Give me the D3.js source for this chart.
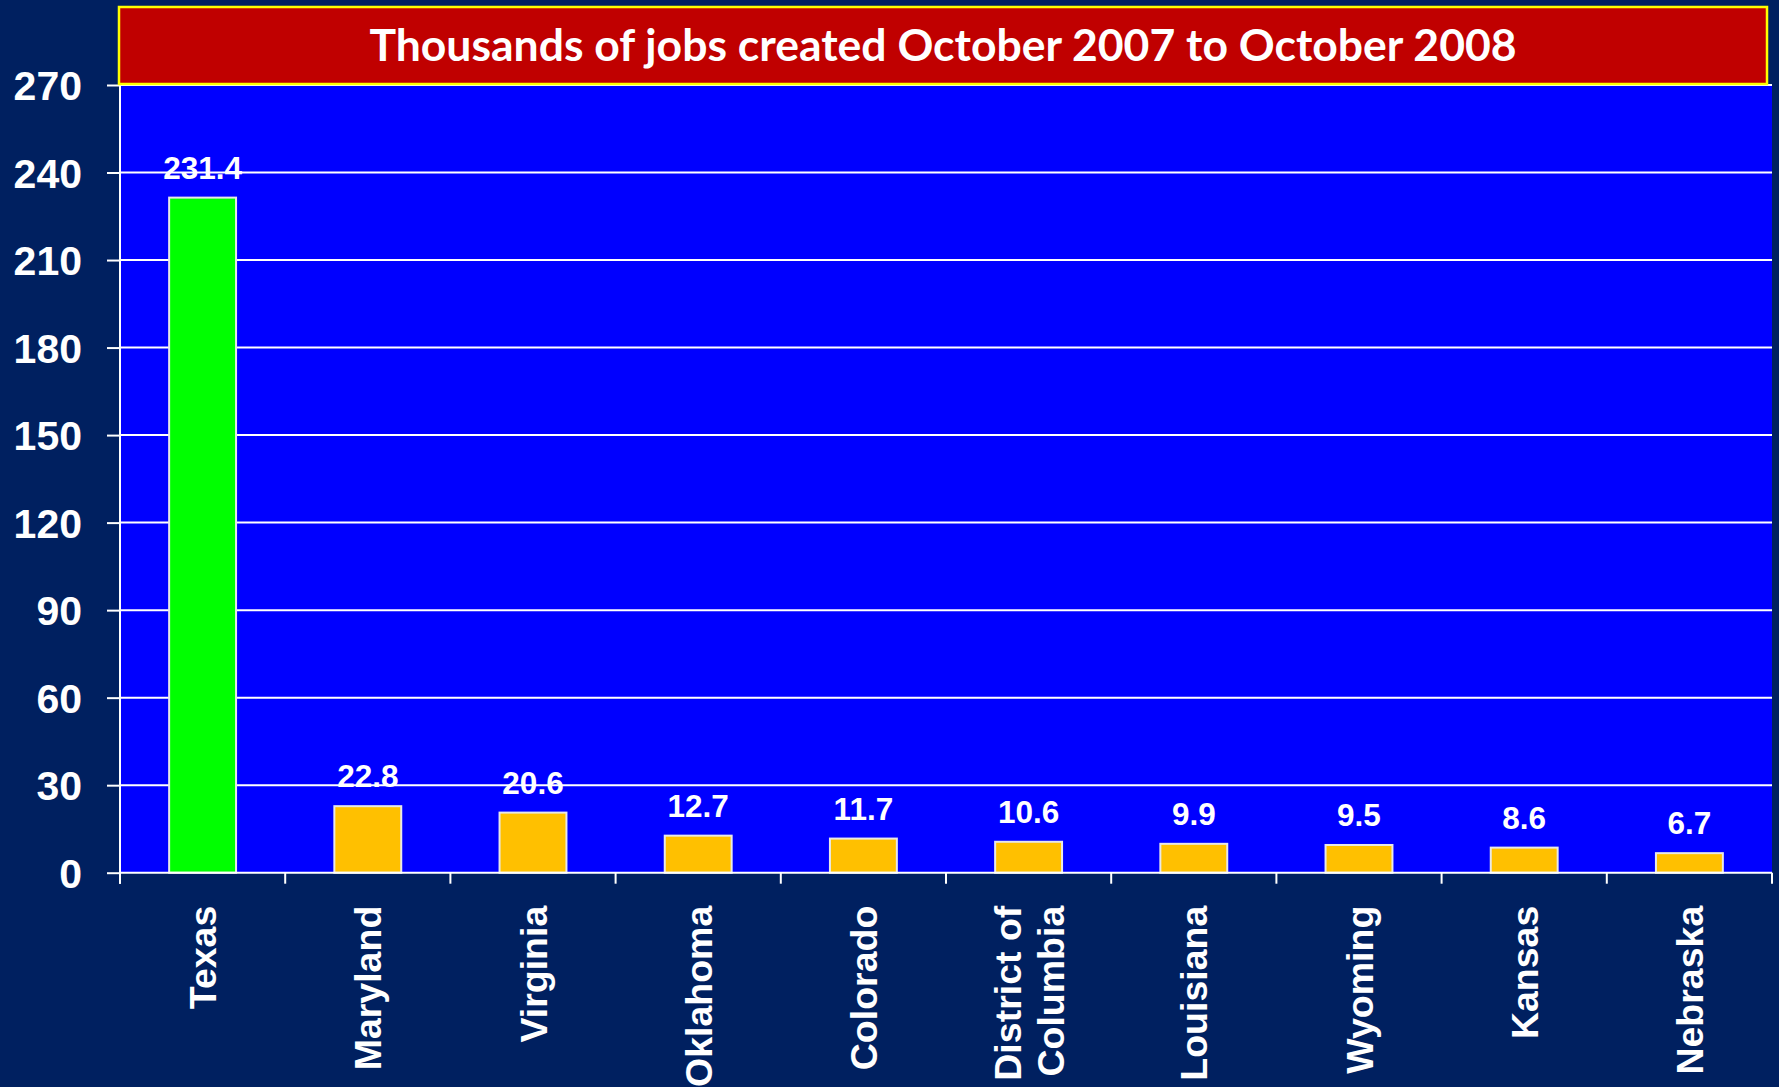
<!DOCTYPE html>
<html><head><meta charset="utf-8">
<script src="https://cdn.jsdelivr.net/npm/d3@7"></script>
<style>body{margin:0;background:#002060;}svg{display:block;}</style>
</head><body>
<script>
const categories = ["Texas","Maryland","Virginia","Oklahoma","Colorado","District of Columbia","Louisiana","Wyoming","Kansas","Nebraska"];
const categoryLines = [["Texas"],["Maryland"],["Virginia"],["Oklahoma"],["Colorado"],["District of","Columbia"],["Louisiana"],["Wyoming"],["Kansas"],["Nebraska"]];
const values = [231.4,22.8,20.6,12.7,11.7,10.6,9.9,9.5,8.6,6.7];
const valueLabels = ["231.4","22.8","20.6","12.7","11.7","10.6","9.9","9.5","8.6","6.7"];
const yTicks = [0,30,60,90,120,150,180,210,240,270];
const title = "Thousands of jobs created October 2007 to October 2008";

const W=1779,H=1087;
const m={left:120,right:1772,top:85,bottom:872.7};
const svg=d3.select("body").append("svg").attr("width",W).attr("height",H);
svg.append("rect").attr("width",W).attr("height",H).attr("fill","#002060");

const x=d3.scaleBand().domain(categories).range([m.left,m.right]).paddingInner(0.595).paddingOuter(0.2975);
const xb=d3.scaleBand().domain(categories).range([m.left,m.right]);
const y=d3.scaleLinear().domain([0,270]).range([m.bottom,m.top]);

svg.append("rect").attr("x",m.left).attr("y",m.top).attr("width",m.right-m.left).attr("height",m.bottom-m.top).attr("fill","#0000FF");

// gridlines
svg.append("g").selectAll("line").data(yTicks.filter(d=>d>0)).join("line")
  .attr("x1",m.left).attr("x2",m.right).attr("y1",d=>y(d)).attr("y2",d=>y(d))
  .attr("stroke","#ffffff").attr("stroke-width",2);

// y axis
const ya=svg.append("g").attr("transform",`translate(${m.left},0)`)
  .call(d3.axisLeft(y).tickValues(yTicks).tickSize(13).tickPadding(25).tickSizeOuter(0));
ya.select(".domain").attr("stroke","#fff").attr("stroke-width",2).attr("d",`M0,${m.top}V${m.bottom+11}`);
ya.selectAll(".tick line").attr("stroke","#fff").attr("stroke-width",2);
ya.selectAll(".tick text").attr("fill","#fff").attr("font-family","Liberation Sans, Arial, sans-serif")
  .attr("font-weight","bold").attr("font-size",41).attr("dy","0.36em");

// bars
svg.append("g").selectAll("rect").data(values).join("rect")
  .attr("x",(d,i)=>x(categories[i])).attr("width",x.bandwidth())
  .attr("y",d=>y(d)).attr("height",d=>y(0)-y(d))
  .attr("fill",(d,i)=>i===0?"#00FF00":"#FFC000")
  .attr("stroke","#e8e8e8").attr("stroke-width",2);

// value labels
svg.append("g").selectAll("text").data(values).join("text")
  .attr("x",(d,i)=>x(categories[i])+x.bandwidth()/2).attr("y",d=>y(d)-19)
  .attr("text-anchor","middle").attr("fill","#fff")
  .attr("font-family","Liberation Sans, Arial, sans-serif").attr("font-weight","bold").attr("font-size",31.5)
  .text((d,i)=>valueLabels[i]);

// x axis line + ticks
svg.append("line").attr("x1",m.left).attr("x2",m.right).attr("y1",y(0)).attr("y2",y(0)).attr("stroke","#fff").attr("stroke-width",2);
const bounds=categories.map(c=>xb(c)).concat([m.right]);
svg.append("g").selectAll("line").data(bounds).join("line")
  .attr("x1",d=>d).attr("x2",d=>d).attr("y1",y(0)).attr("y2",y(0)+11).attr("stroke","#fff").attr("stroke-width",2);

// x labels
const lh=43;
const xl=svg.append("g").selectAll("g").data(categoryLines).join("g")
  .attr("transform",(d,i)=>`translate(${xb(categories[i])+xb.bandwidth()/2},${y(0)+33}) rotate(-90)`);
xl.each(function(lines){
  const g=d3.select(this);
  const n=lines.length;
  lines.forEach((t,k)=>{
    g.append("text").attr("x",0).attr("y",(k-(n-1)/2)*lh).attr("dy","0.36em")
      .attr("text-anchor","end").attr("fill","#fff")
      .attr("font-family","Liberation Sans, Arial, sans-serif").attr("font-weight","bold").attr("font-size",37.5)
      .text(t);
  });
});

// title box
svg.append("rect").attr("x",119).attr("y",7).attr("width",1648).attr("height",77)
  .attr("fill","#C00000").attr("stroke","#FFFF00").attr("stroke-width",2.5);
svg.append("text").attr("x",(119+1767)/2).attr("y",61).attr("text-anchor","middle")
  .attr("fill","#fff").attr("font-family","Lato, Open Sans, sans-serif").attr("font-weight","bold").attr("font-size",44.5)
  .text(title);
</script>
</body></html>
